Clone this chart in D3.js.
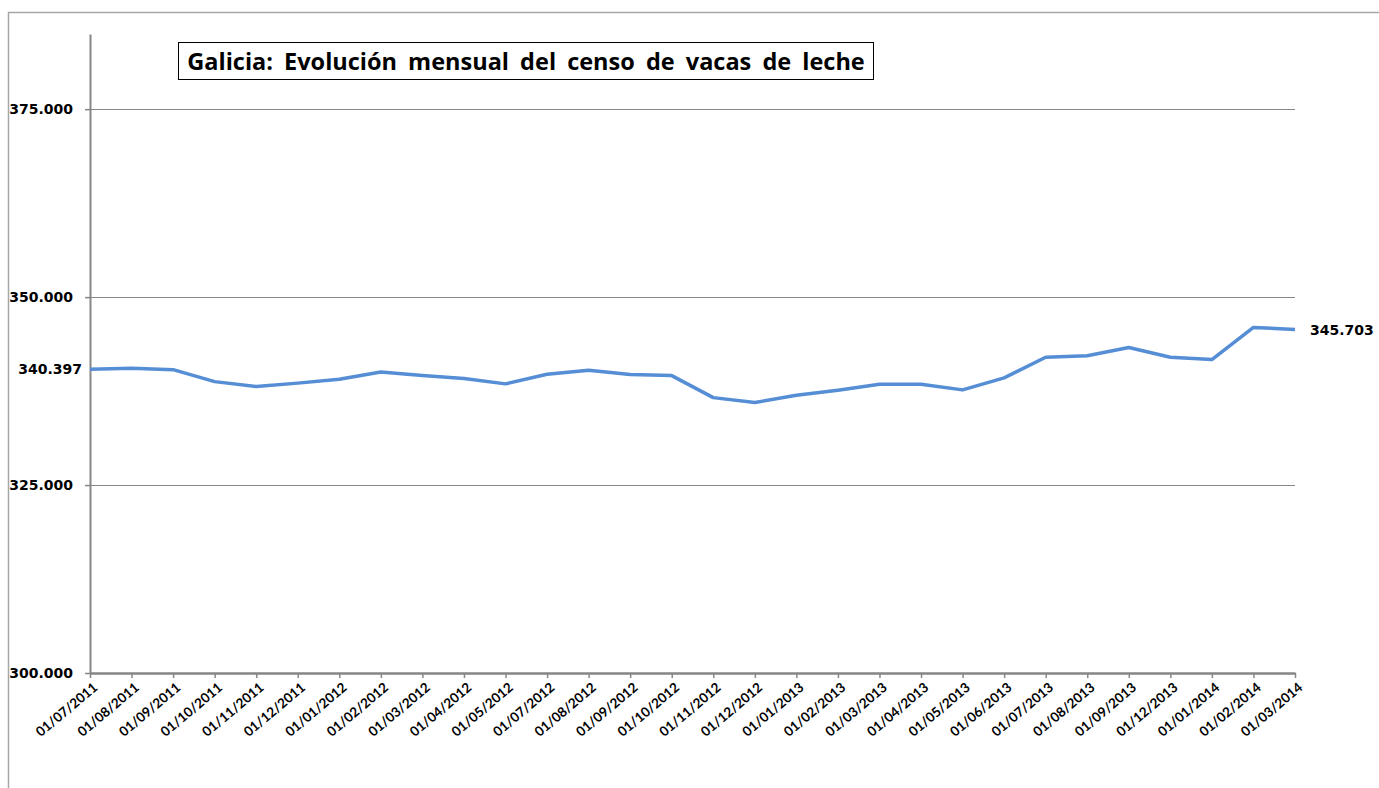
<!DOCTYPE html>
<html>
<head>
<meta charset="utf-8">
<script src="https://cdn.jsdelivr.net/npm/d3@7"></script>
<style>
  body { margin: 0; background: #fff; }
  svg { display: block; }
</style>
</head>
<body>
<div id="chart"></div>
<script>
// Galicia: evolución mensual del censo de vacas de leche
var fechas = ["01/07/2011", "01/08/2011", "01/09/2011", "01/10/2011", "01/11/2011", "01/12/2011",
  "01/01/2012", "01/02/2012", "01/03/2012", "01/04/2012", "01/05/2012", "01/07/2012",
  "01/08/2012", "01/09/2012", "01/10/2012", "01/11/2012", "01/12/2012", "01/01/2013",
  "01/02/2013", "01/03/2013", "01/04/2013", "01/05/2013", "01/06/2013", "01/07/2013",
  "01/08/2013", "01/09/2013", "01/12/2013", "01/01/2014", "01/02/2014", "01/03/2014"];

var censo = [340397, 340540, 340350, 338760, 338100, 338560,
  339070, 340050, 339560, 339160, 338460, 339740,
  340270, 339700, 339560, 336630, 335970, 336940,
  337610, 338400, 338400, 337660, 339260, 342000,
  342190, 343290, 342000, 341690, 345960, 345703];

var yTicks = [300000, 325000, 350000, 375000];

var svgWidth = 1379, svgHeight = 788;
var margin = { top: 34, right: 84, bottom: 115, left: 90 };
var width = svgWidth - margin.left - margin.right;
var height = svgHeight - margin.top - margin.bottom;

var fmt = function(v) { return d3.format(",")(v).replace(/,/g, "."); };

var svg = d3.select("#chart").append("svg")
  .attr("width", svgWidth)
  .attr("height", svgHeight);

// marco exterior
svg.append("rect")
  .attr("x", 8.5).attr("y", 12.5)
  .attr("width", svgWidth + 10).attr("height", svgHeight + 10)
  .attr("fill", "none").attr("stroke", "#a6a6a6").attr("stroke-width", 1.5);

var g = svg.append("g").attr("transform", "translate(" + margin.left + "," + margin.top + ")");

var x = d3.scalePoint().domain(fechas).range([0, width]);
var y = d3.scaleLinear().domain([300000, 385000]).range([height, 0]);

// gridlines
g.selectAll(".grid").data(yTicks.slice(1)).enter().append("line")
  .attr("x1", 0).attr("x2", width)
  .attr("y1", function(d) { return Math.round(y(d)) + 0.5; })
  .attr("y2", function(d) { return Math.round(y(d)) + 0.5; })
  .attr("stroke", "#868686").attr("stroke-width", 1.2);

// y axis
var yAxis = g.append("g")
  .call(d3.axisLeft(y).tickValues(yTicks).tickFormat(fmt).tickSize(5).tickSizeOuter(0).tickPadding(12));
yAxis.select(".domain").attr("stroke", "#868686").attr("stroke-width", 2);
yAxis.selectAll(".tick line").attr("stroke", "#868686").attr("stroke-width", 1.5);
yAxis.selectAll("text")
  .attr("font-family", "DejaVu Sans").attr("font-weight", "bold").attr("font-size", 14).attr("fill", "#000");

// x axis
var xAxis = g.append("g")
  .attr("transform", "translate(0," + height + ")")
  .call(d3.axisBottom(x).tickSize(5).tickSizeOuter(0));
xAxis.select(".domain").attr("stroke", "#868686").attr("stroke-width", 2.5);
xAxis.selectAll(".tick line").attr("stroke", "#868686").attr("stroke-width", 1.5);
xAxis.selectAll("text")
  .attr("font-family", "Lato").attr("font-weight", "bold").attr("font-size", 13.5).attr("fill", "#000")
  .attr("text-anchor", "end")
  .attr("x", 0).attr("y", 0).attr("dy", 0)
  .attr("transform", "translate(8,16) rotate(-40)");

// linea
var line = d3.line()
  .x(function(d, i) { return x(fechas[i]); })
  .y(function(d) { return y(d); });

g.append("path")
  .datum(censo)
  .attr("d", line)
  .attr("fill", "none")
  .attr("stroke", "#558ed5")
  .attr("stroke-width", 3.5)
  .attr("stroke-linejoin", "round");

// etiquetas primer y ultimo valor
var n = censo.length;
g.append("text")
  .attr("x", -8).attr("y", y(censo[0]))
  .attr("dy", "0.35em").attr("text-anchor", "end")
  .attr("font-family", "DejaVu Sans").attr("font-weight", "bold").attr("font-size", 14)
  .text(fmt(censo[0]));
g.append("text")
  .attr("x", x(fechas[n - 1]) + 15).attr("y", y(censo[n - 1]) + 1)
  .attr("dy", "0.35em").attr("text-anchor", "start")
  .attr("font-family", "DejaVu Sans").attr("font-weight", "bold").attr("font-size", 14)
  .text(fmt(censo[n - 1]));

// titulo
svg.append("rect")
  .attr("x", 178.5).attr("y", 42.5).attr("width", 695).attr("height", 37)
  .attr("fill", "#fff").attr("stroke", "#000").attr("stroke-width", 1);
svg.append("text")
  .attr("x", 526).attr("y", 70)
  .attr("text-anchor", "middle")
  .attr("font-family", "Open Sans").attr("font-weight", "bold").attr("font-size", 23.5)
  .attr("word-spacing", "5px")
  .text("Galicia: Evolución mensual del censo de vacas de leche");
</script>
</body>
</html>
